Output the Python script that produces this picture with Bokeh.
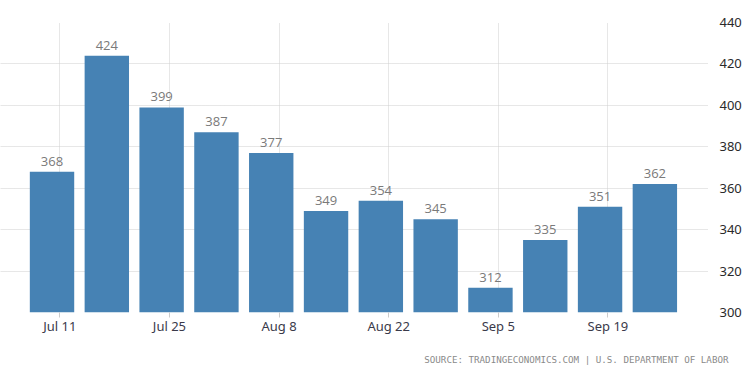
import pandas as pd
from bokeh.plotting import figure
from bokeh.models import ColumnDataSource, Range1d, FixedTicker, Title, DatetimeTickFormatter
from bokeh.core.properties import value
from bokeh.embed import file_html
from bokeh.resources import INLINE

# data
week_dates = ["2021-07-10", "2021-07-17", "2021-07-24", "2021-07-31", "2021-08-07", "2021-08-14",
              "2021-08-21", "2021-08-28", "2021-09-04", "2021-09-11", "2021-09-18", "2021-09-25"]
claims = [368, 424, 399, 387, 377, 349, 354, 345, 312, 335, 351, 362]
tick_dates = ["2021-07-11", "2021-07-25", "2021-08-08", "2021-08-22", "2021-09-05", "2021-09-19"]
y_ticks = [300, 320, 340, 360, 380, 400, 420, 440]

DAY = 86400000.0
xs = pd.to_datetime(week_dates)
src = ColumnDataSource(dict(x=xs, top=claims, label=[str(v) for v in claims]))

x0 = pd.Timestamp(week_dates[0])
x_start = x0 - pd.Timedelta(days=6.58)
x_end = x0 + pd.Timedelta(days=83.85)

p = figure(frame_width=708, frame_height=290, x_axis_type="datetime", output_backend="svg",
           toolbar_location=None, y_axis_location="right",
           x_range=Range1d(x_start, x_end), y_range=Range1d(300, 440),
           min_border_left=0, min_border_top=22, min_border_right=34, min_border_bottom=0)
p.outline_line_color = None
p.background_fill_color = "white"
p.border_fill_color = "white"

p.vbar(x="x", top="top", bottom=300, width=5.67 * DAY, source=src,
       fill_color="#4682b4", line_color=None)
p.text(x="x", y="top", text="label", source=src, text_align="center", text_baseline="bottom",
       y_offset=-6, text_color="#7a7a7a", text_font=value("Open Sans"), text_font_size="13px")

tick_ms = [pd.Timestamp(d).value / 1e6 for d in tick_dates]
p.xaxis.ticker = FixedTicker(ticks=tick_ms)
p.xaxis.formatter = DatetimeTickFormatter(days="%b %-d", months="%b %-d")
p.xaxis.axis_line_color = None
p.xaxis.major_tick_line_color = "#cccccc"
p.xaxis.major_tick_out = 5
p.xaxis.major_tick_in = 0
p.xaxis.minor_tick_line_color = None
p.xaxis.major_label_text_font = "Noto Sans"
p.xaxis.major_label_text_font_size = "13px"
p.xaxis.major_label_text_color = "#3a3a4a"
p.xaxis.major_label_standoff = -1

p.yaxis.ticker = FixedTicker(ticks=y_ticks)
p.yaxis.axis_line_color = None
p.yaxis.major_tick_line_color = None
p.yaxis.minor_tick_line_color = None
p.yaxis.major_label_text_font = "Noto Sans"
p.yaxis.major_label_text_font_size = "13px"
p.yaxis.major_label_text_color = "#2a2a2a"
p.yaxis.major_label_standoff = 5

p.xgrid.ticker = FixedTicker(ticks=tick_ms)
p.ygrid.ticker = FixedTicker(ticks=y_ticks)
for g in (p.xgrid, p.ygrid):
    g.grid_line_color = "#cfcfcf"
    g.grid_line_dash = "1 1"
    g.grid_line_width = 1

p.add_layout(Title(text="SOURCE: TRADINGECONOMICS.COM | U.S. DEPARTMENT OF LABOR", align="right",
                   text_font="DejaVu Sans Mono", text_font_size="9.2px", text_font_style="normal",
                   text_color="#8a8a8a", offset=-20, standoff=29), "below")

open("out.html", "w").write(file_html(p, INLINE))
